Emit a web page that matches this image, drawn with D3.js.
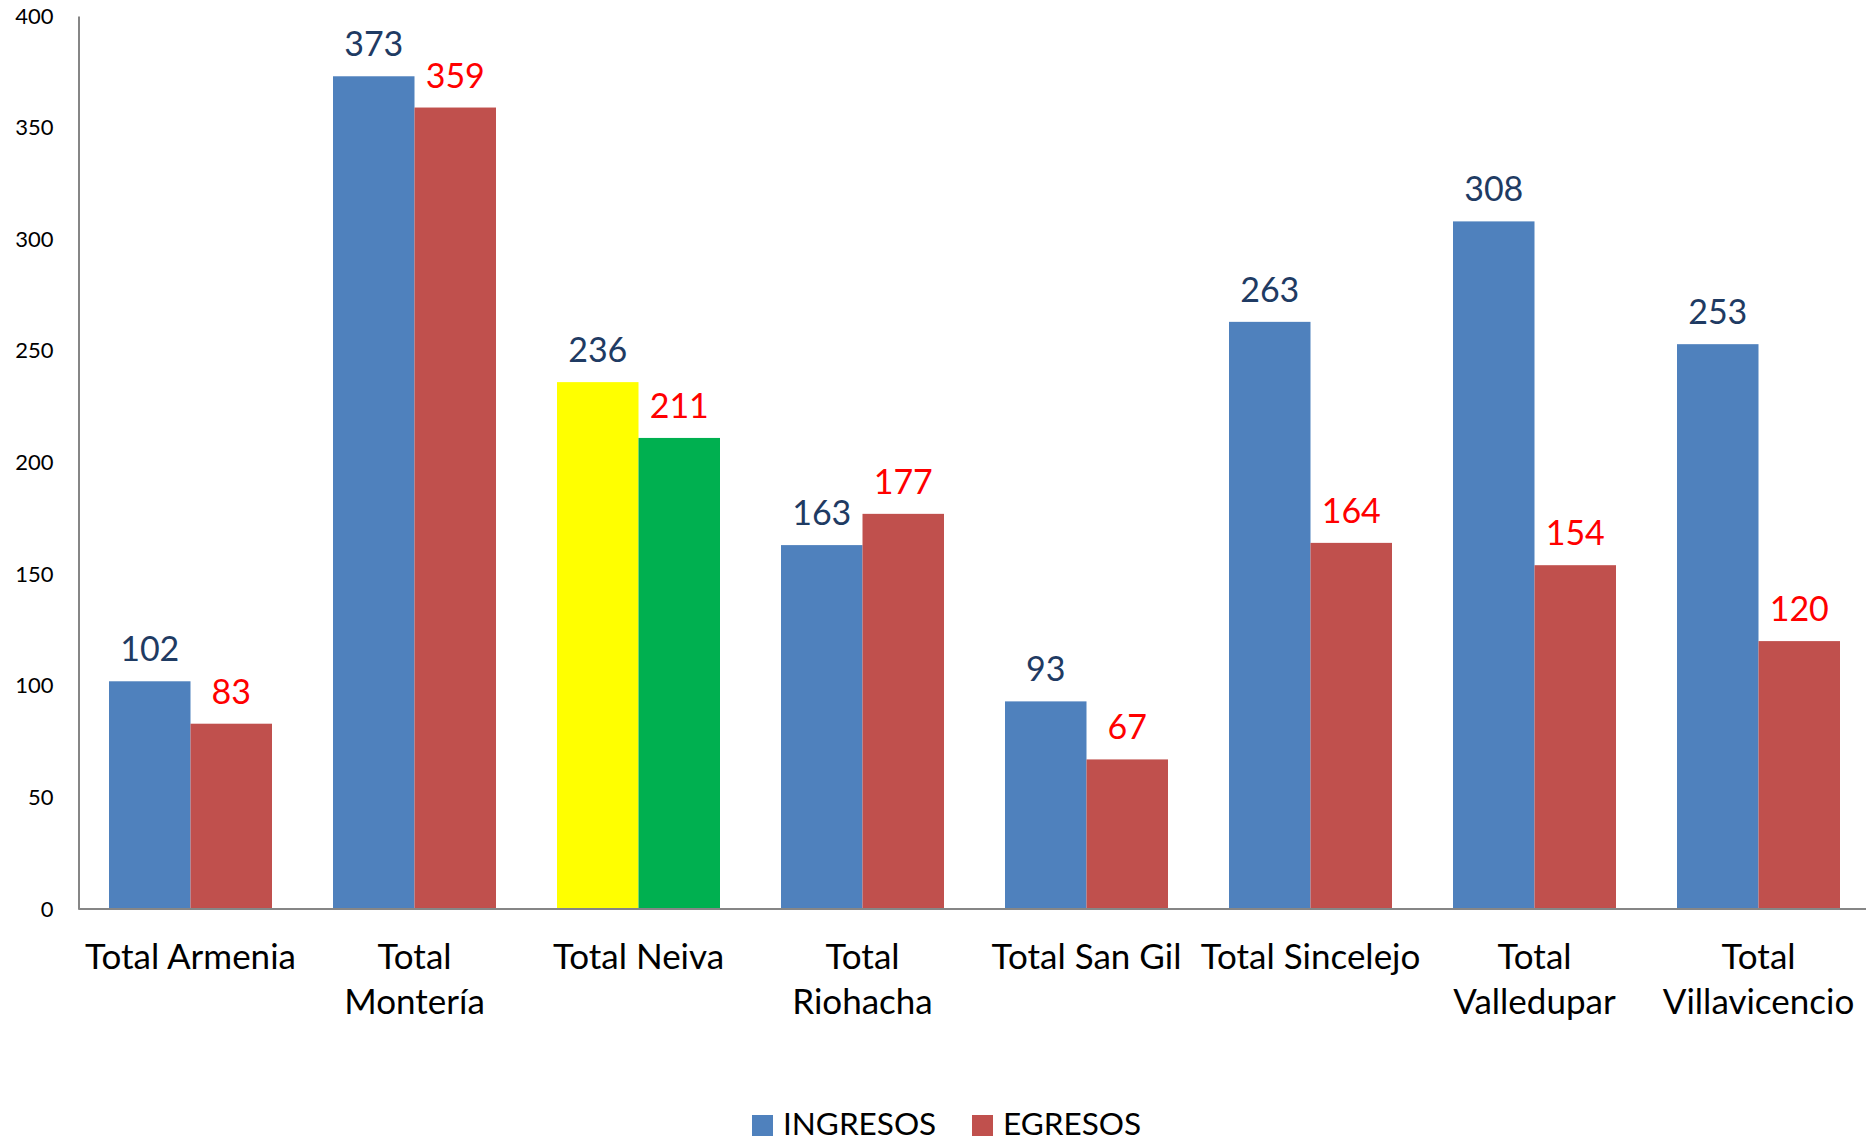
<!DOCTYPE html>
<html><head><meta charset="utf-8">
<script src="https://cdn.jsdelivr.net/npm/d3@7"></script>
<style>body{margin:0;background:#fff}svg{display:block}text{font-family:Lato,"Open Sans",sans-serif}</style>
</head><body>
<svg id="c" width="1866" height="1142"></svg>
<script>
const categories = ["Total Armenia","Total Montería","Total Neiva","Total Riohacha","Total San Gil","Total Sincelejo","Total Valledupar","Total Villavicencio"];
const categoryLabelLines = [["Total Armenia"],["Total","Montería"],["Total Neiva"],["Total","Riohacha"],["Total San Gil"],["Total Sincelejo"],["Total","Valledupar"],["Total","Villavicencio"]];
const seriesNames = ["INGRESOS","EGRESOS"];
const ingresos = [102,373,236,163,93,263,308,253];
const egresos = [83,359,211,177,67,164,154,120];
const yTicks = [0,50,100,150,200,250,300,350,400];
const seriesColors = ["#4F81BD","#C0504D"];
const labelColors = ["#1F3B63","#FF0000"];
const highlight = {"Total Neiva":["#FFFF00","#00B050"]};

(function(){
const svg = d3.select("#c");
const mLeft = 78.5, mRight = 1870.5, mTop = 16, mBottom = 909;
const x = d3.scaleBand().domain(categories).range([mLeft,mRight]).paddingInner(0).paddingOuter(0);
const groupFrac = 163/224;
const xs = d3.scaleBand().domain([0,1]).range([0, x.bandwidth()*groupFrac]);
const groupOffset = x.bandwidth()*(1-groupFrac)/2;
const y = d3.scaleLinear().domain([0,400]).range([mBottom,mTop]);

const yAxis = d3.axisLeft(y).tickValues(yTicks).tickSize(0).tickPadding(25);
const gy = svg.append("g").attr("transform",`translate(${mLeft},0)`).call(yAxis);
gy.select(".domain").attr("stroke","#868686").attr("stroke-width",2);
gy.selectAll("text").attr("font-size",22).attr("fill","#000").attr("font-family","Lato");

const data = categories.map((c,i)=>({c, vals:[ingresos[i],egresos[i]]}));
const g = svg.append("g");
data.forEach((d,i)=>{
  d.vals.forEach((v,s)=>{
    const bx = x(d.c)+groupOffset+xs(s);
    const col = highlight[d.c] ? highlight[d.c][s] : seriesColors[s];
    g.append("rect").attr("x",bx).attr("y",y(v)).attr("width",xs.bandwidth()).attr("height",y(0)-y(v)).attr("fill",col);
    g.append("text").attr("x",bx+xs.bandwidth()/2).attr("y",y(v)-20).attr("text-anchor","middle")
      .attr("font-size",34).attr("fill",labelColors[s]).text(v);
  });
});

svg.append("line").attr("x1",mLeft).attr("x2",mRight).attr("y1",mBottom).attr("y2",mBottom).attr("stroke","#868686").attr("stroke-width",2);
categories.forEach((c,i)=>{
  const t = svg.append("text").attr("x",x(c)+x.bandwidth()/2).attr("y",969).attr("text-anchor","middle").attr("font-size",35).attr("fill","#000");
  categoryLabelLines[i].forEach((ln,j)=>{
    t.append("tspan").attr("x",x(c)+x.bandwidth()/2).attr("dy", j===0?0:45).text(ln);
  });
});

const lg = svg.append("g");
const legendX = [752, 972];
seriesNames.forEach((n,s)=>{
  lg.append("rect").attr("x",legendX[s]).attr("y",1115).attr("width",21).attr("height",21).attr("fill",seriesColors[s]);
  lg.append("text").attr("x",legendX[s]+31).attr("y",1135).attr("font-size",31.5).attr("fill","#000").text(n);
});
})();
</script>
</body></html>
